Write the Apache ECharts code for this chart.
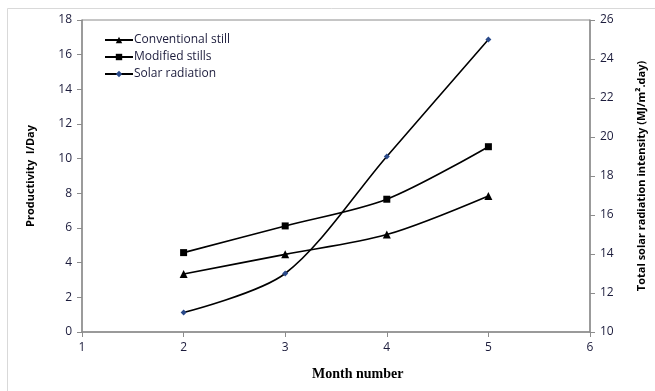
<!DOCTYPE html>
<html><head><meta charset="utf-8">
<script src="https://cdn.jsdelivr.net/npm/echarts@6/dist/echarts.min.js"></script>
<style>html,body{margin:0;padding:0;background:#fff}#c{width:655px;height:391px}</style>
</head><body><div id="c"></div>
<script>
const months = [2, 3, 4, 5];
const conventional = [3.35, 4.48, 5.62, 7.85];
const modified = [4.58, 6.12, 7.66, 10.69];
const solar = [11.0, 13.0, 19.0, 25.0];
const seriesNames = ['Conventional still', 'Modified stills', 'Solar radiation'];

const chart = echarts.init(document.getElementById('c'), null, {renderer: 'canvas'});
const txt = '#1c1c3c';
const axisGray = '#8c8c8c';
const font = '"Open Sans", "Liberation Sans", sans-serif';
function pts(arr) { return months.map((m, i) => [m, arr[i]]); }

chart.setOption({
  animation: false,
  backgroundColor: '#fff',
  grid: {left: 82, right: 61, top: 20, bottom: 59, show: true, borderColor: axisGray, borderWidth: 1},
  legend: {
    left: 99, top: 29, orient: 'vertical', itemGap: 5, itemWidth: 28, itemHeight: 8,
    textStyle: {color: txt, fontFamily: font, fontSize: 12, padding: [0, 0, 0, -4]},
    data: seriesNames
  },
  xAxis: {
    type: 'value', min: 1, max: 6, interval: 1,
    axisLine: {show: true, onZero: false, lineStyle: {color: axisGray, width: 1.5}},
    axisTick: {show: true, length: 5, lineStyle: {color: axisGray}},
    axisLabel: {color: txt, fontFamily: font, fontSize: 12, margin: 10},
    splitLine: {show: false}
  },
  yAxis: [{
    type: 'value', min: 0, max: 18, interval: 2,
    name: 'Productivity  l/Day', nameLocation: 'middle', nameGap: 46,
    nameTextStyle: {color: '#000', fontFamily: font, fontSize: 11, fontWeight: 'bold'},
    axisLine: {show: true, lineStyle: {color: axisGray, width: 1.5}},
    axisTick: {show: true, length: 5, lineStyle: {color: axisGray}},
    axisLabel: {color: txt, fontFamily: font, fontSize: 12, margin: 10},
    splitLine: {show: false}
  }, {
    type: 'value', min: 10, max: 26, interval: 2, position: 'right',
    name: 'Total solar radiation intensity (MJ/m\u00B2.day)', nameLocation: 'middle', nameGap: 46,
    nameRotate: 90,
    nameTextStyle: {color: '#000', fontFamily: font, fontSize: 11, fontWeight: 'bold'},
    axisLine: {show: true, lineStyle: {color: axisGray, width: 1.5}},
    axisTick: {show: true, length: 5, lineStyle: {color: axisGray}},
    axisLabel: {color: txt, fontFamily: font, fontSize: 12, margin: 10},
    splitLine: {show: false}
  }],
  series: [{
    name: seriesNames[0], type: 'line', smooth: 0.3, yAxisIndex: 0,
    data: pts(conventional), symbol: 'triangle', symbolSize: 8,
    lineStyle: {color: '#000', width: 1.6}, itemStyle: {color: '#000'}
  }, {
    name: seriesNames[1], type: 'line', smooth: 0.3, yAxisIndex: 0,
    data: pts(modified), symbol: 'rect', symbolSize: 7,
    lineStyle: {color: '#000', width: 1.6}, itemStyle: {color: '#000'}
  }, {
    name: seriesNames[2], type: 'line', smooth: 0.3, yAxisIndex: 1,
    data: pts(solar), symbol: 'diamond', symbolSize: 6,
    lineStyle: {color: '#000', width: 1.6}, itemStyle: {color: '#2a4a8a'}
  }],
  graphic: [{
    type: 'rect', left: 5, top: 6, silent: true, z: -10,
    shape: {width: 660, height: 383},
    style: {fill: 'none', stroke: '#d9d9d9', lineWidth: 1}
  }, {
    type: 'text', left: 312, top: 367,
    style: {text: 'Month number', font: 'bold 14px "Liberation Serif", "DejaVu Serif", serif', fill: '#000'}
  }]
});
</script></body></html>
